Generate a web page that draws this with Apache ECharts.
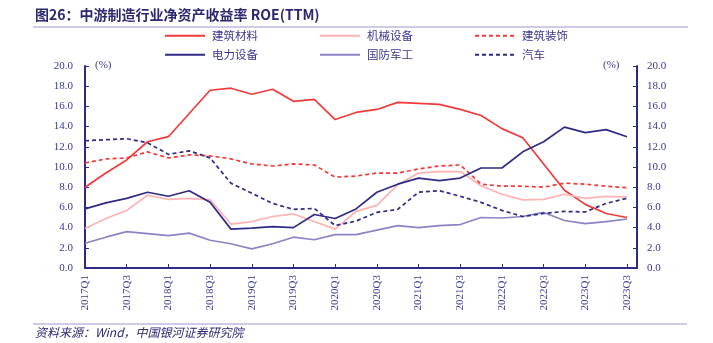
<!DOCTYPE html>
<html>
<head>
<meta charset="utf-8">
<script src="https://cdn.jsdelivr.net/npm/echarts@6/dist/echarts.min.js"></script>
<style>
html,body{margin:0;padding:0;background:#fff;}
#c{width:713px;height:343px;}
</style>
</head>
<body>
<div id="c"></div>
<script>
var quarters = ['2017Q1','2017Q2','2017Q3','2017Q4','2018Q1','2018Q2','2018Q3','2018Q4',
  '2019Q1','2019Q2','2019Q3','2019Q4','2020Q1','2020Q2','2020Q3','2020Q4',
  '2021Q1','2021Q2','2021Q3','2021Q4','2022Q1','2022Q2','2022Q3','2022Q4',
  '2023Q1','2023Q2','2023Q3'];
var yTicks = [0,2,4,6,8,10,12,14,16,18,20];

var jianzhuCailiao = [8.0, 9.4, 10.7, 12.5, 13.0, 15.3, 17.6, 17.8, 17.2, 17.7, 16.5, 16.7, 14.7, 15.4, 15.7, 16.4, 16.3, 16.2, 15.7, 15.1, 13.8, 12.9, 10.3, 7.7, 6.3, 5.4, 5.0];
var jixieShebei = [3.9, 4.9, 5.7, 7.2, 6.8, 6.9, 6.75, 4.35, 4.6, 5.1, 5.35, 4.6, 3.85, 5.6, 6.2, 8.25, 9.4, 9.55, 9.55, 8.15, 7.3, 6.75, 6.8, 7.3, 6.9, 7.1, 7.05];
var jianzhuZhuangshi = [10.4, 10.8, 10.9, 11.5, 10.9, 11.2, 11.1, 10.8, 10.3, 10.1, 10.3, 10.2, 9.0, 9.1, 9.4, 9.4, 9.8, 10.1, 10.2, 8.3, 8.1, 8.1, 8.0, 8.4, 8.3, 8.1, 7.95];
var dianliShebei = [5.85, 6.45, 6.9, 7.5, 7.1, 7.65, 6.5, 3.85, 3.95, 4.1, 4.0, 5.3, 4.9, 5.85, 7.5, 8.3, 8.9, 8.65, 8.9, 9.9, 9.9, 11.5, 12.5, 13.95, 13.4, 13.7, 13.0];
var guofangJungong = [2.45, 3.05, 3.6, 3.4, 3.2, 3.45, 2.75, 2.4, 1.9, 2.4, 3.05, 2.8, 3.3, 3.3, 3.75, 4.2, 4.0, 4.2, 4.3, 5.0, 4.95, 5.1, 5.5, 4.7, 4.4, 4.6, 4.85];
var qiche = [12.6, 12.7, 12.8, 12.4, 11.25, 11.6, 10.9, 8.4, 7.4, 6.4, 5.8, 5.9, 4.2, 4.65, 5.5, 5.8, 7.5, 7.65, 7.1, 6.5, 5.7, 5.1, 5.4, 5.6, 5.55, 6.4, 6.9];

var names = ['建筑材料','机械设备','建筑装饰','电力设备','国防军工','汽车'];
var values = [jianzhuCailiao, jixieShebei, jianzhuZhuangshi, dianliShebei, guofangJungong, qiche];

var RED = '#F23A3A', PINK = '#FFB2B2', NAVY = '#2F2A86', LAV = '#8A84C4';
var TXT = '#3A3790';
var styles = [
  {color: RED, type: 'solid'},
  {color: PINK, type: 'solid'},
  {color: RED, type: [4, 3]},
  {color: NAVY, type: 'solid'},
  {color: LAV, type: 'solid'},
  {color: NAVY, type: [4, 3]}
];

function pairs(arr){ return arr.map(function(v,i){ return [i, v]; }); }

var series = names.map(function(n, k){
  return {
    name: n, type: 'line', yAxisIndex: 0, data: pairs(values[k]),
    symbol: 'none', showSymbol: false, animation: false,
    lineStyle: {color: styles[k].color, width: 1.7, type: styles[k].type},
    itemStyle: {color: styles[k].color}
  };
});

var serif = '"Liberation Serif","Times New Roman",serif';
var cjk = '"Noto Sans CJK SC","Noto Sans",sans-serif';

function legendAt(left, items){
  return {
    orient: 'vertical', left: left, top: 30, itemGap: 7.5,
    itemWidth: 40, itemHeight: 12, padding: 0,
    data: items, selectedMode: false,
    itemStyle: {opacity: 0, borderWidth: 0},
    textStyle: {color: TXT, fontSize: 11.5, fontFamily: cjk, padding: [0,0,0,2]}
  };
}

var yLabel = {color: TXT, fontSize: 11, fontFamily: serif,
  formatter: function(v){ return v.toFixed(1); }};

var option = {
  backgroundColor: '#fff',
  animation: false,
  grid: {left: 85, right: 76, top: 66, bottom: 75, containLabel: false},
  legend: [
    legendAt(164, ['建筑材料','电力设备']),
    legendAt(319, ['机械设备','国防军工']),
    legendAt(474, ['建筑装饰','汽车'])
  ],
  xAxis: {
    type: 'value', min: 0, max: 26.48, interval: 2,
    axisLine: {lineStyle: {color: NAVY, width: 2}},
    axisTick: {inside: true, length: 4, lineStyle: {color: NAVY, width: 1}},
    splitLine: {show: false},
    axisLabel: {
      rotate: 90, color: TXT, fontSize: 11, fontFamily: serif, margin: 7,
      showMaxLabel: false,
      formatter: function(v){
        if (Math.abs(v - Math.round(v)) > 1e-6) return '';
        return quarters[Math.round(v)] || '';
      }
    }
  },
  yAxis: [
    {type: 'value', min: 0, max: 20, interval: 2, position: 'left',
     axisLine: {show: true, lineStyle: {color: NAVY, width: 2}},
     axisTick: {show: true, inside: true, length: 4, lineStyle: {color: NAVY, width: 1}},
     splitLine: {show: false}, axisLabel: Object.assign({margin: 12}, yLabel)},
    {type: 'value', min: 0, max: 20, interval: 2, position: 'right',
     axisLine: {show: true, lineStyle: {color: NAVY, width: 2}},
     axisTick: {show: true, inside: true, length: 4, lineStyle: {color: NAVY, width: 1}},
     splitLine: {show: false}, axisLabel: Object.assign({margin: 10}, yLabel)}
  ],
  graphic: [
    {type: 'text', left: 35, top: 8, style: {text: '图26：中游制造行业净资产收益率 ROE(TTM)',
      fill: '#2B2870', font: 'bold 14px ' + cjk}},
    {type: 'line', shape: {x1: 33, y1: 27, x2: 688, y2: 27}, style: {stroke: '#9C98CF', lineWidth: 1.2}},
    {type: 'text', left: 95, top: 60, style: {text: '(%)', fill: TXT, font: '11px ' + serif}},
    {type: 'text', left: 603, top: 60, style: {text: '(%)', fill: TXT, font: '11px ' + serif}},
    {type: 'line', shape: {x1: 33, y1: 324, x2: 687, y2: 324}, style: {stroke: '#9C98CF', lineWidth: 1.2}},
    {type: 'text', left: 35, top: 326, style: {text: '资料来源：Wind，中国银河证券研究院',
      fill: '#2B2870', font: 'italic 12px ' + cjk}}
  ],
  series: series
};

var chart = echarts.init(document.getElementById('c'), null, {renderer: 'canvas'});
chart.setOption(option);
</script>
</body>
</html>
